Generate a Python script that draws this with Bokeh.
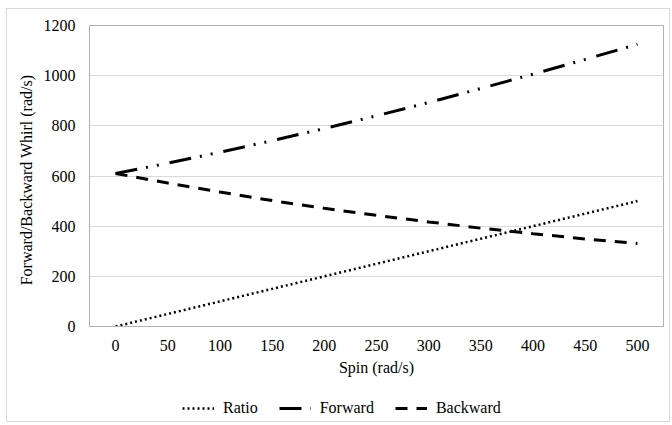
from bokeh.plotting import figure
from bokeh.models import FixedTicker, Legend, LegendItem, Range1d
from bokeh.layouts import column
from bokeh.embed import file_html
from bokeh.resources import INLINE

spin = [0, 50, 100, 150, 200, 250, 300, 350, 400, 450, 500]
ratio = [0, 50, 100, 150, 200, 250, 300, 350, 400, 450, 500]
forward = [610, 651, 695, 741, 789, 840, 893, 949, 1006, 1065, 1125]
backward = [610, 572, 536, 502, 471, 443, 417, 392, 370, 349, 331]
y_ticks = [0, 200, 400, 600, 800, 1000, 1200]
series_names = ["Ratio", "Forward", "Backward"]
x_title = "Spin (rad/s)"
y_title = "Forward/Backward  Whirl  (rad/s)"

FONT = "Liberation Serif"
STYLES = [dict(line_color="black", line_width=2.5, line_dash="2 3"),
          dict(line_color="black", line_width=3, line_dash="22 9 2 9 2 11"),
          dict(line_color="black", line_width=3, line_dash="12 9")]

p = figure(width=662, height=381, output_backend="svg", toolbar_location=None,
           x_range=Range1d(-25, 525), y_range=Range1d(0, 1200),
           min_border_left=82, min_border_right=6, min_border_top=16, min_border_bottom=64)

p.outline_line_color = "#b3b3b3"
p.outline_line_width = 1
p.xgrid.grid_line_color = None
p.ygrid.grid_line_color = "#d9d9d9"
p.ygrid.grid_line_width = 1

p.xaxis.ticker = FixedTicker(ticks=spin)
p.yaxis.ticker = FixedTicker(ticks=y_ticks)
for ax in (p.xaxis, p.yaxis):
    ax.major_tick_line_color = None
    ax.minor_tick_line_color = None
    ax.major_tick_out = 0
    ax.major_tick_in = 0
    ax.minor_tick_out = 0
    ax.minor_tick_in = 0
    ax.axis_line_color = "#b3b3b3"
    ax.major_label_text_font = FONT
    ax.major_label_text_font_size = "16px"
    ax.major_label_text_color = "#000000"
    ax.axis_label_text_font = FONT
    ax.axis_label_text_font_size = "16px"
    ax.axis_label_text_font_style = "normal"
    ax.axis_label_text_color = "#000000"
p.xaxis.axis_label = x_title
p.yaxis.axis_label = y_title
p.xaxis.major_label_standoff = 13
p.xaxis.axis_label_standoff = 5
p.yaxis.major_label_standoff = 14
p.yaxis.axis_label_standoff = 6

for ys, st in zip([ratio, forward, backward], STYLES):
    p.line(spin, ys, **st)

# legend strip below the chart (proxy renderers carry only the line styles)
lg = figure(width=662, height=31, output_backend="svg", toolbar_location=None,
            min_border_left=11, min_border_right=0, min_border_top=5, min_border_bottom=0,
            x_range=Range1d(0, 1), y_range=Range1d(0, 1))
lg.axis.visible = False
lg.grid.visible = False
lg.outline_line_color = None
items = []
for name, st in zip(series_names, STYLES):
    r = lg.line(x=[float("nan")], y=[float("nan")], **st)
    items.append(LegendItem(label=name, renderers=[r]))
legend = Legend(items=items, orientation="horizontal", location="left",
                glyph_width=32, glyph_height=16, label_standoff=9, spacing=21,
                padding=0, margin=93, border_line_color=None, background_fill_alpha=0,
                label_text_font=FONT, label_text_font_size="16px", label_text_color="#000000")
lg.add_layout(legend)

layout = column(p, lg, spacing=0,
                styles={"border": "1px solid #d9d9d9", "margin": "8px 0 0 6px"})
open("out.html", "w").write(file_html(layout, INLINE))
